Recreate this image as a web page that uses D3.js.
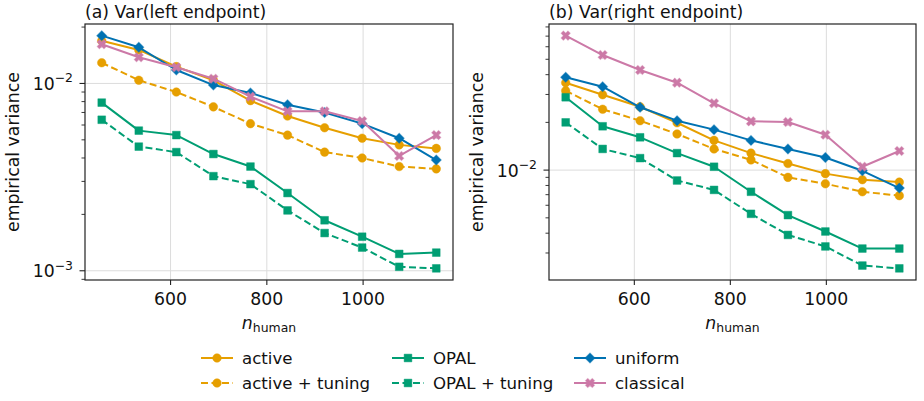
<!DOCTYPE html>
<html>
<head>
<meta charset="utf-8">
<script src="https://cdn.jsdelivr.net/npm/d3@7.9.0/dist/d3.min.js"></script>
<style>
  html, body { margin: 0; padding: 0; background: #fff; }
  svg { display: block; font-family: 'DejaVu Sans', sans-serif; }
</style>
</head>
<body>
<svg id="chart" width="924" height="401"></svg>
<script>
// ━━━━━━━━━━━━━━━ Data ━━━━━━━━━━━━━━━
const nHuman = [457, 534, 612, 689, 766, 843, 920, 998, 1075, 1152];

// (a) Var(left endpoint)
const leftActive       = [0.0169, 0.0151, 0.0123, 0.0104, 0.0081, 0.0067, 0.0058, 0.0051, 0.0047, 0.0045];
const leftActiveTuning = [0.0129, 0.0104, 0.0090, 0.0075, 0.0061, 0.0053, 0.0043, 0.0040, 0.0036, 0.0035];
const leftOpal         = [0.0079, 0.0056, 0.0053, 0.0042, 0.0036, 0.0026, 0.00186, 0.00152, 0.00123, 0.00125];
const leftOpalTuning   = [0.0064, 0.0046, 0.0043, 0.0032, 0.0029, 0.0021, 0.00159, 0.00133, 0.00105, 0.00103];
const leftUniform      = [0.0180, 0.0156, 0.0118, 0.0098, 0.0089, 0.0077, 0.0070, 0.0061, 0.0051, 0.0039];
const leftClassical    = [0.0162, 0.0138, 0.0122, 0.0106, 0.0085, 0.0071, 0.0071, 0.0063, 0.0041, 0.0053];

// (b) Var(right endpoint)
const rightActive       = [0.0356, 0.0299, 0.0251, 0.0199, 0.0154, 0.0128, 0.0110, 0.0095, 0.0087, 0.0084];
const rightActiveTuning = [0.0317, 0.0242, 0.0205, 0.0169, 0.0136, 0.0116, 0.0090, 0.0082, 0.0073, 0.0069];
const rightOpal         = [0.0288, 0.0189, 0.0161, 0.0128, 0.0105, 0.0073, 0.0052, 0.0041, 0.0032, 0.0032];
const rightOpalTuning   = [0.0200, 0.0136, 0.0119, 0.0086, 0.0075, 0.0053, 0.0039, 0.0033, 0.0025, 0.0024];
const rightUniform      = [0.0385, 0.0336, 0.0249, 0.0205, 0.0180, 0.0154, 0.0136, 0.0120, 0.0099, 0.0077];
const rightClassical    = [0.0705, 0.0532, 0.0428, 0.0356, 0.0264, 0.0203, 0.0201, 0.0167, 0.0105, 0.0132];

const seriesNames = ['active', 'active + tuning', 'OPAL', 'OPAL + tuning', 'uniform', 'classical'];
const xTicks = [600, 800, 1000];

// ━━━━━━━━━━━━━━━ Style ━━━━━━━━━━━━━━━
const ORANGE = '#E69F00', GREEN = '#009E73', BLUE = '#0072B2', PINK = '#CC79A7';
const styles = {
    'active':          { color: ORANGE, marker: 'circle',  dash: null },
    'active + tuning': { color: ORANGE, marker: 'circle',  dash: '7,3.5' },
    'OPAL':            { color: GREEN,  marker: 'square',  dash: null },
    'OPAL + tuning':   { color: GREEN,  marker: 'square',  dash: '7,3.5' },
    'uniform':         { color: BLUE,   marker: 'diamond', dash: null },
    'classical':       { color: PINK,   marker: 'x',       dash: null },
};
const FONT = 17.3;
const LEG_FONT = 16.6;
const TXT = '#111';

const svg = d3.select('#chart');

function markerPath(kind) {
    if (kind === 'circle') return d3.symbol(d3.symbolCircle, 58)();
    if (kind === 'square') return d3.symbol(d3.symbolSquare, 60)();
    if (kind === 'diamond') return d3.symbol(d3.symbolSquare, 50)();
    return d3.symbol(d3.symbolCross, 52)();
}
function markerRot(kind) {
    return (kind === 'diamond' || kind === 'x') ? 45 : 0;
}

function drawMarker(g, kind, color, x, y) {
    g.append('path')
        .attr('d', markerPath(kind))
        .attr('transform', `translate(${x},${y}) rotate(${markerRot(kind)})`)
        .attr('fill', color)
        .attr('stroke', color)
        .attr('stroke-opacity', 0.45)
        .attr('stroke-width', 1);
}

function supLabel(sel, exp) {
    sel.append('tspan').text('10');
    sel.append('tspan')
        .attr('dy', -7.5)
        .attr('font-size', FONT * 0.72)
        .text('\u2212' + Math.abs(exp));
}

function panel(box, title, data) {
    const { x0, x1, y0, y1 } = box;
    const g = svg.append('g');

    const xExt = d3.extent(nHuman);
    const xPad = (xExt[1] - xExt[0]) * 0.05;
    const x = d3.scaleLinear().domain([xExt[0] - xPad, xExt[1] + xPad]).range([x0, x1]);

    const all = data.flat();
    const lmin = Math.log10(d3.min(all)), lmax = Math.log10(d3.max(all));
    const lPad = (lmax - lmin) * 0.05;
    const y = d3.scaleLog().domain([10 ** (lmin - lPad), 10 ** (lmax + lPad)]).range([y1, y0]);

    // ticks
    const [dLo, dHi] = y.domain();
    const major = [], minor = [];
    for (let e = Math.floor(Math.log10(dLo)); e <= Math.ceil(Math.log10(dHi)); e++) {
        for (let k = 1; k <= 9; k++) {
            const v = k * 10 ** e;
            if (v < dLo || v > dHi) continue;
            (k === 1 ? major : minor).push({ v, e });
        }
    }

    // grid
    g.append('g').selectAll('line.gx')
        .data(xTicks)
        .join('line')
        .attr('x1', d => x(d)).attr('x2', d => x(d))
        .attr('y1', y0).attr('y2', y1)
        .attr('stroke', '#dcdcdc').attr('stroke-width', 1);
    g.append('g').selectAll('line.gy')
        .data(major)
        .join('line')
        .attr('x1', x0).attr('x2', x1)
        .attr('y1', d => y(d.v)).attr('y2', d => y(d.v))
        .attr('stroke', '#dcdcdc').attr('stroke-width', 1);

    // series
    const line = d3.line().x((d, i) => x(nHuman[i])).y(d => y(d));
    const clip = 'clip' + x0;
    svg.append('clipPath').attr('id', clip)
        .append('rect').attr('x', x0).attr('y', y0).attr('width', x1 - x0).attr('height', y1 - y0);
    const plot = g.append('g').attr('clip-path', `url(#${clip})`);

    seriesNames.forEach((name, si) => {
        const st = styles[name];
        const vals = data[si];
        plot.append('path')
            .datum(vals)
            .attr('d', line)
            .attr('fill', 'none')
            .attr('stroke', st.color)
            .attr('stroke-width', 2)
            .attr('stroke-dasharray', st.dash)
            .attr('stroke-linejoin', 'round');
        vals.forEach((v, i) => drawMarker(plot, st.marker, st.color, x(nHuman[i]), y(v)));
    });

    // frame
    g.append('rect')
        .attr('x', x0).attr('y', y0)
        .attr('width', x1 - x0).attr('height', y1 - y0)
        .attr('fill', 'none').attr('stroke', '#222').attr('stroke-width', 1.2);

    // x ticks
    const xt = g.append('g').selectAll('g').data(xTicks).join('g');
    xt.append('line')
        .attr('x1', d => x(d)).attr('x2', d => x(d))
        .attr('y1', y1).attr('y2', y1 + 5)
        .attr('stroke', '#222').attr('stroke-width', 1.1);
    xt.append('text')
        .attr('x', d => x(d)).attr('y', y1 + 25)
        .attr('text-anchor', 'middle')
        .attr('font-size', FONT).attr('fill', TXT)
        .text(d => d);

    // y ticks
    g.append('g').selectAll('line').data(minor).join('line')
        .attr('x1', x0 - 3.5).attr('x2', x0)
        .attr('y1', d => y(d.v)).attr('y2', d => y(d.v))
        .attr('stroke', '#222').attr('stroke-width', 0.9);
    const yt = g.append('g').selectAll('g').data(major).join('g');
    yt.append('line')
        .attr('x1', x0 - 5.5).attr('x2', x0)
        .attr('y1', d => y(d.v)).attr('y2', d => y(d.v))
        .attr('stroke', '#222').attr('stroke-width', 1.1);
    yt.append('text')
        .attr('x', x0 - 12).attr('y', d => y(d.v) + 6.5)
        .attr('text-anchor', 'end')
        .attr('font-size', FONT).attr('fill', TXT)
        .each(function (d) { supLabel(d3.select(this), d.e); });

    // title
    g.append('text')
        .attr('x', x0).attr('y', y0 - 6)
        .attr('font-size', FONT).attr('fill', TXT)
        .text(title);

    // axis labels
    const xl = g.append('text')
        .attr('x', (x0 + x1) / 2).attr('y', y1 + 49)
        .attr('text-anchor', 'middle')
        .attr('font-size', FONT).attr('fill', TXT);
    xl.append('tspan').attr('font-style', 'italic').text('n');
    xl.append('tspan').attr('dy', 3).attr('font-size', FONT * 0.72).text('human');

    g.append('text')
        .attr('transform', `translate(${x0 - 66},${(y0 + y1) / 2}) rotate(-90)`)
        .attr('text-anchor', 'middle')
        .attr('font-size', FONT).attr('fill', TXT)
        .text('empirical variance');
}

panel({ x0: 85, x1: 453, y0: 24, y1: 280 }, '(a) Var(left endpoint)',
    [leftActive, leftActiveTuning, leftOpal, leftOpalTuning, leftUniform, leftClassical]);
panel({ x0: 549, x1: 916, y0: 24, y1: 280 }, '(b) Var(right endpoint)',
    [rightActive, rightActiveTuning, rightOpal, rightOpalTuning, rightUniform, rightClassical]);

// ━━━━━━━━━━━━━━━ Legend ━━━━━━━━━━━━━━━
const legendCols = [201, 392, 574];
const legendRows = [358, 383];
const lg = svg.append('g');
seriesNames.forEach((name, i) => {
    const st = styles[name];
    const cx = legendCols[Math.floor(i / 2)];
    const cy = legendRows[i % 2];
    lg.append('line')
        .attr('x1', cx).attr('x2', cx + 32)
        .attr('y1', cy).attr('y2', cy)
        .attr('stroke', st.color).attr('stroke-width', 2)
        .attr('stroke-dasharray', st.dash);
    drawMarker(lg, st.marker, st.color, cx + 16, cy);
    lg.append('text')
        .attr('x', cx + 41).attr('y', cy + 6)
        .attr('font-size', LEG_FONT).attr('fill', TXT)
        .text(name);
});
</script>
</body>
</html>
